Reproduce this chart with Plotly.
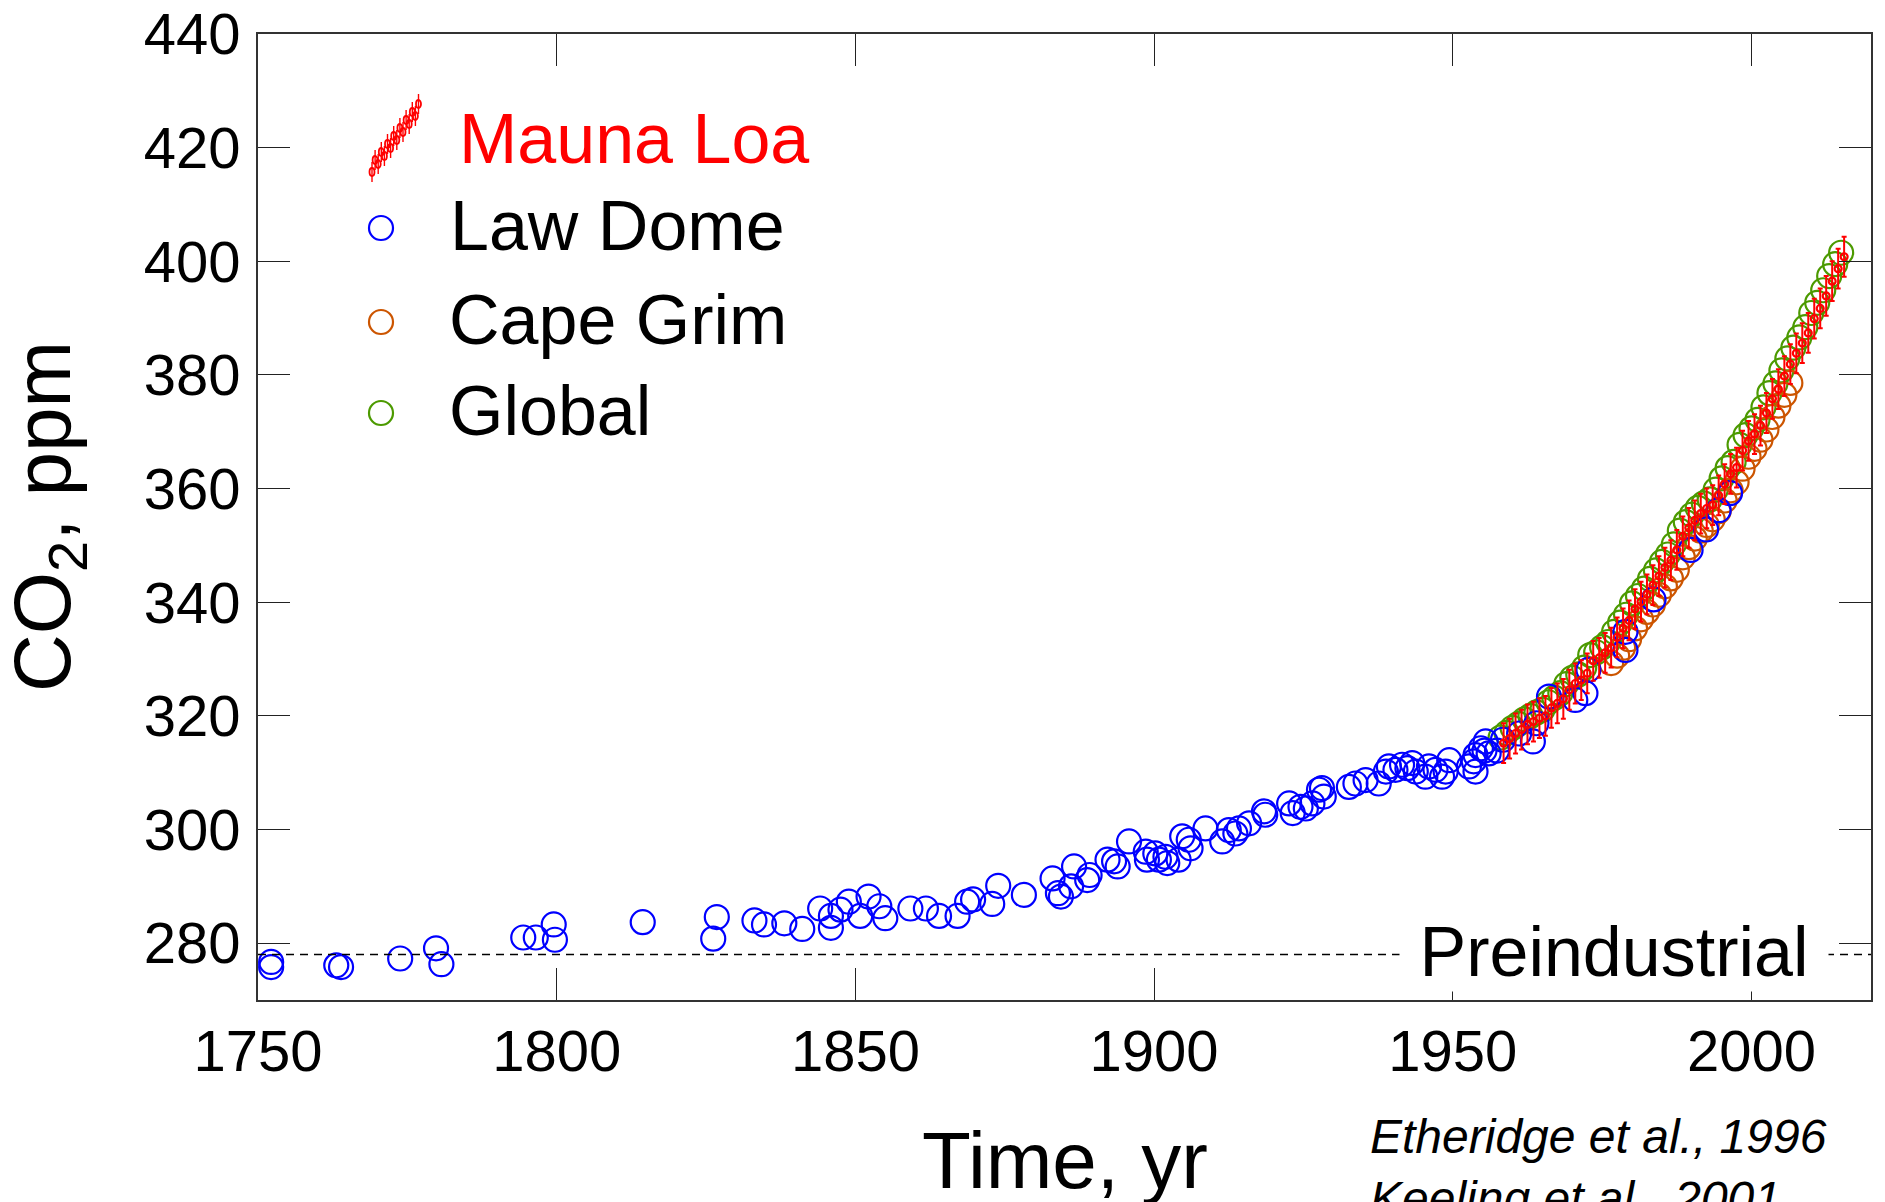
import plotly.graph_objects as go

# ---------------------------------------------------------------- data
# Law Dome ice core / firn (year, ppm)
law_dome_year = [
    1752.2, 1752.2, 1763.1, 1763.9, 1773.8, 1779.8, 1780.7, 1794.4, 1796.5, 1799.5,
    1799.7, 1814.4, 1826.8, 1826.2, 1833.1, 1834.7, 1838.1, 1841.1, 1844.1, 1845.9,
    1845.9, 1847.5, 1848.9, 1850.8, 1852.2, 1854.0, 1855.0, 1859.2, 1861.8, 1864.0,
    1867.1, 1868.7, 1869.7, 1872.9, 1873.9, 1878.2, 1883.0, 1883.9, 1884.4, 1886.1,
    1886.6, 1888.8, 1889.2, 1892.2, 1893.3, 1893.9, 1895.8, 1898.8, 1898.6, 1900.2,
    1900.8, 1901.9, 1902.2, 1904.1, 1904.7, 1905.8, 1906.1, 1908.6, 1911.4, 1912.5,
    1913.6, 1914.2, 1915.9, 1918.6, 1918.4, 1922.6, 1923.2, 1924.5, 1925.4, 1926.5,
    1927.6, 1928.4, 1928.1, 1932.6, 1933.7, 1935.4, 1937.6, 1938.8, 1939.3, 1940.4,
    1941.5, 1942.4, 1943.2, 1943.8, 1945.4, 1946.0, 1947.1, 1948.2, 1948.8, 1949.4,
    1952.7, 1953.5, 1953.8, 1954.7, 1955.5, 1956.0, 1953.8, 1955.3, 1957.4, 1958.4,
    1961.1, 1963.4, 1964.0, 1966.1, 1970.5, 1972.2, 1972.7, 1978.9, 1978.9, 1983.6,
    1989.8, 1992.4, 1994.5, 1996.4,
]
law_dome_ppm = [
    276.7, 275.8, 276.1, 275.8, 277.3, 279.1, 276.3, 281.0, 281.0, 283.3,
    280.6, 283.7, 284.6, 280.8, 284.0, 283.3, 283.5, 282.5, 286.1, 284.8,
    282.7, 285.9, 287.3, 284.8, 288.2, 286.5, 284.4, 286.1, 286.1, 284.8,
    284.8, 287.3, 287.7, 286.9, 290.1, 288.5, 291.4, 288.8, 288.2, 290.0,
    293.5, 291.1, 292.0, 294.7, 294.4, 293.5, 297.9, 294.7, 296.1, 295.8,
    294.7, 295.2, 294.1, 294.7, 298.8, 298.2, 296.7, 300.2, 297.9, 299.9,
    299.3, 300.2, 301.1, 302.6, 303.2, 304.6, 302.9, 304.0, 303.7, 304.6,
    307.0, 305.8, 307.3, 307.5, 308.1, 308.7, 308.1, 310.2, 311.1, 310.5,
    311.4, 310.8, 311.7, 310.2, 309.3, 311.1, 310.5, 309.3, 310.2, 312.2,
    311.1, 312.0, 313.1, 314.3, 315.5, 313.4, 310.2, 313.9, 313.9, 315.8,
    316.9, 315.5, 318.7, 323.4, 322.8, 324.0, 328.1, 331.6, 334.8, 340.5,
    349.2, 352.8, 356.2, 359.2,
]

# Mauna Loa annual means (ppm); seasonal spread shown as error bars
mauna_loa_year = list(range(1958, 2016))
mauna_loa_ppm = [
    315.2, 316.0, 316.9, 317.6, 318.5, 319.0, 319.6, 320.0, 321.4, 322.2,
    323.0, 324.6, 325.7, 326.3, 327.5, 329.7, 330.2, 331.1, 332.0, 333.8,
    335.4, 336.8, 338.8, 340.1, 341.4, 343.0, 344.6, 346.1, 347.4, 349.2,
    351.6, 353.1, 354.4, 355.6, 356.5, 357.1, 358.8, 360.8, 362.6, 363.7,
    366.7, 368.4, 369.6, 371.1, 373.3, 375.8, 377.5, 379.8, 381.9, 383.8,
    385.6, 387.4, 389.9, 391.7, 393.9, 396.5, 398.7, 400.8,
]
mauna_loa_spread = 3.5

# Cape Grim annual means (ppm)
cape_grim_year = list(range(1976, 2007))
cape_grim_ppm = [
    329.3, 330.6, 332.0, 333.5, 335.4, 337.0, 338.3, 339.6, 341.3, 342.8,
    344.2, 345.7, 347.9, 349.7, 351.2, 352.6, 353.6, 354.6, 356.0, 357.9,
    359.7, 361.1, 363.5, 365.6, 367.0, 368.6, 370.4, 372.6, 374.6, 376.5,
    378.6,
]

# Global annual means (ppm)
global_year = list(range(1958, 2016))
global_ppm = [
    316.2, 317.0, 317.9, 318.6, 319.4, 320.0, 320.6, 321.1, 322.4, 323.2,
    324.0, 325.6, 326.7, 327.3, 328.5, 330.7, 331.2, 332.1, 333.0, 334.8,
    336.4, 337.8, 339.8, 341.1, 342.4, 344.1, 345.6, 347.1, 348.4, 350.2,
    352.6, 354.1, 355.4, 356.6, 357.4, 358.1, 359.8, 361.8, 363.6, 364.7,
    367.7, 369.4, 370.6, 372.1, 374.3, 376.8, 378.5, 380.8, 382.9, 384.8,
    386.6, 388.4, 390.9, 392.7, 394.9, 397.4, 399.5, 401.5,
]

preindustrial_ppm = 278
x_ticks = [1750, 1800, 1850, 1900, 1950, 2000]
y_ticks = [280, 300, 320, 340, 360, 380, 400, 420, 440]

# ---------------------------------------------------------------- style
W, H = 1885, 1202
M_L, M_R, M_T, M_B = 258, 14, 34, 202
FONT = "Liberation Sans, Arial, Helvetica, sans-serif"
BLUE = "#0000ff"
ORANGE = "#cc5500"
GREEN = "#4c9a00"
RED = "#ff0000"

plot_w = W - M_L - M_R
plot_h = H - M_T - M_B


def px_to_paper(px, py):
    return (px - M_L) / plot_w, (H - M_B - py) / plot_h


fig = go.Figure()

fig.add_trace(go.Scatter(
    x=global_year, y=global_ppm, mode="markers", name="Global",
    marker=dict(symbol="circle-open", size=24, color=GREEN, line=dict(width=2.2)),
))
fig.add_trace(go.Scatter(
    x=[y + 0.5 for y in cape_grim_year], y=cape_grim_ppm, mode="markers", name="Cape Grim",
    marker=dict(symbol="circle-open", size=24, color=ORANGE, line=dict(width=2.2)),
))
fig.add_trace(go.Scatter(
    x=law_dome_year, y=law_dome_ppm, mode="markers", name="Law Dome",
    marker=dict(symbol="circle-open", size=24, color=BLUE, line=dict(width=2.2)),
))
fig.add_trace(go.Scatter(
    x=[y + 0.5 for y in mauna_loa_year], y=mauna_loa_ppm, mode="markers", name="Mauna Loa",
    marker=dict(symbol="circle-open", size=7, color=RED, line=dict(width=2.2)),
    error_y=dict(type="constant", value=mauna_loa_spread, color=RED, thickness=2, width=2.5),
))

shapes = [
    # preindustrial reference level
    dict(type="line", xref="x", yref="y", x0=1750, x1=2020,
         y0=preindustrial_ppm, y1=preindustrial_ppm,
         line=dict(color="black", width=1.5, dash="8px,6px"), layer="above"),
]

annotations = [
    dict(x=1977, y=preindustrial_ppm, xref="x", yref="y", text="&nbsp;Preindustrial&nbsp;",
         showarrow=False, font=dict(family=FONT, size=70, color="black"),
         bgcolor="white", borderpad=0, yshift=3),
    dict(x=0.5, y=0, xref="paper", yref="paper", text="Time, yr", showarrow=False,
         yanchor="middle", yshift=-160, font=dict(family=FONT, size=80, color="black")),
    dict(x=0, y=0.5, xref="paper", yref="paper", text="CO<sub>2</sub>, ppm", showarrow=False,
         textangle=-90, xanchor="center", xshift=-210,
         font=dict(family=FONT, size=80, color="black")),
    dict(x=px_to_paper(1368, 0)[0], y=0, xref="paper", yref="paper",
         text="<i>Etheridge et al., 1996</i><br><i>Keeling et al., 2001</i>",
         showarrow=False, xanchor="left", yanchor="top", align="left", yshift=-108,
         font=dict(family=FONT, size=48, color="black")),
]

# hand-built legend
legend_rows = [
    ("Mauna Loa", RED, RED, 457, 139),
    ("Law Dome", "black", BLUE, 448, 226),
    ("Cape Grim", "black", ORANGE, 447, 320),
    ("Global", "black", GREEN, 447, 411),
]
for label, tcolor, mcolor, tx, ty in legend_rows:
    ax, ay = px_to_paper(tx, ty)
    annotations.append(dict(x=ax, y=ay, xref="paper", yref="paper", text=label,
                            showarrow=False, xanchor="left", yanchor="middle",
                            font=dict(family=FONT, size=70, color=tcolor)))
    if label != "Mauna Loa":
        cx, cy = px_to_paper(381, ty + 2)
        shapes.append(dict(type="circle", xref="paper", yref="paper",
                           xsizemode="pixel", ysizemode="pixel",
                           xanchor=cx, yanchor=cy, x0=-12, x1=12, y0=-12, y1=12,
                           line=dict(color=mcolor, width=2.2)))

# Mauna Loa legend glyph: a short rising run of small red marks with bars
gx, gy = px_to_paper(395, 138)
for i in range(16):
    ox = -23 + i * 3.1
    oy = -30 + i * 4.0 + (4 if i % 2 else -4)
    shapes.append(dict(type="line", xref="paper", yref="paper",
                       xsizemode="pixel", ysizemode="pixel", xanchor=gx, yanchor=gy,
                       x0=ox, x1=ox, y0=oy - 10, y1=oy + 10,
                       line=dict(color=RED, width=1.4)))
    shapes.append(dict(type="circle", xref="paper", yref="paper",
                       xsizemode="pixel", ysizemode="pixel", xanchor=gx, yanchor=gy,
                       x0=ox - 2.5, x1=ox + 2.5, y0=oy - 4, y1=oy + 4,
                       line=dict(color=RED, width=1.8)))

axis_common = dict(
    showgrid=False, zeroline=False, showline=True, linecolor="#333333", linewidth=1.5,
    mirror="ticks", ticks="inside", ticklen=32, tickwidth=1.2, tickcolor="#222222",
    tickfont=dict(family=FONT, size=58, color="black"),
)

fig.update_layout(
    width=W, height=H,
    margin=dict(l=M_L, r=M_R, t=M_T, b=M_B, autoexpand=False),
    paper_bgcolor="white", plot_bgcolor="white",
    showlegend=False,
    xaxis=dict(range=[1750, 2020], tickvals=x_ticks, ticklabelstandoff=0, **axis_common),
    yaxis=dict(range=[270, 440], tickvals=y_ticks, ticklabelstandoff=4, **axis_common),
    annotations=annotations,
    shapes=shapes,
)

fig.write_html("out.html")
